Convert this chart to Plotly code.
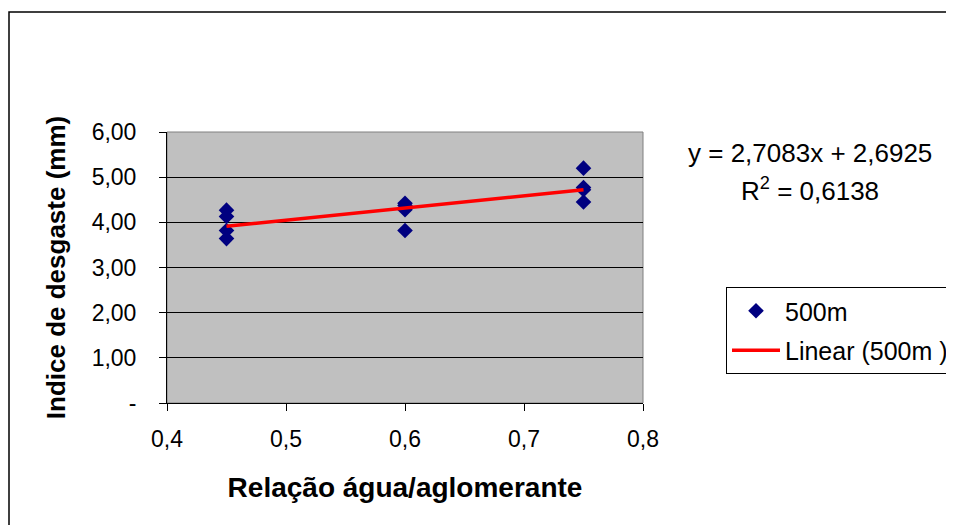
import plotly.graph_objects as go

# Data
x_vals = [0.45, 0.45, 0.45, 0.45, 0.60, 0.60, 0.60, 0.60, 0.75, 0.75, 0.75, 0.75]
y_vals = [4.27, 4.13, 3.82, 3.64, 4.42, 4.37, 4.28, 3.82, 5.20, 4.77, 4.72, 4.45]
series_name = "500m"
trend_name = "Linear (500m )"
slope = 2.7083
intercept = 2.6925
x_ticks = [0.4, 0.5, 0.6, 0.7, 0.8]
x_ticktext = ["0,4", "0,5", "0,6", "0,7", "0,8"]
y_ticks = [0, 1, 2, 3, 4, 5, 6]
y_ticktext = ["-", "1,00", "2,00", "3,00", "4,00", "5,00", "6,00"]
eq_text = "y = 2,7083x + 2,6925"
r2_text = "R<sup>2</sup> = 0,6138"

FONT = "Liberation Sans, Arial, sans-serif"

xmin, xmax = min(x_vals), max(x_vals)
trend_x = [xmin, xmax]
trend_y = [slope * v + intercept for v in trend_x]

fig = go.Figure()
fig.add_trace(go.Scatter(
    x=x_vals, y=y_vals, mode="markers", name=series_name,
    marker=dict(symbol="diamond", size=12, color="#000080"),
    legendgroup="a",
))
fig.add_trace(go.Scatter(
    x=trend_x, y=trend_y, mode="lines", name=trend_name,
    line=dict(color="#FF0000", width=3.5),
    legendgroup="b",
))

OFF = 8  # page body margin
W, H = 954 - OFF, 525 - OFF
L, R, T, B = 167 - OFF, 643 - OFF, 132 - OFF, 403 - OFF
pw, ph = R - L, B - T


def px(xs):
    return (xs - OFF - L) / pw


def py(ys):
    return (B - (ys - OFF)) / ph


fig.update_layout(
    width=W, height=H,
    margin=dict(l=L, r=W - R, t=T, b=H - B, pad=0, autoexpand=False),
    paper_bgcolor="white",
    plot_bgcolor="#C0C0C0",
    font=dict(family=FONT, size=23, color="black"),
    showlegend=True,
    legend=dict(
        xref="container", yref="container",
        x=(726 - OFF) / W, y=1 - (287 - OFF) / H, xanchor="left", yanchor="top",
        bordercolor="black", borderwidth=1, bgcolor="white",
        font=dict(size=25), traceorder="grouped", tracegroupgap=4,
        itemwidth=48,
    ),
    xaxis=dict(
        range=[0.4, 0.8], tickvals=x_ticks, ticktext=x_ticktext,
        showgrid=False, zeroline=False, showline=True, linecolor="black",
        linewidth=1, ticks="outside", ticklen=7, tickcolor="black",
        ticklabelstandoff=8,
        tickfont=dict(size=23),
        title=dict(text="<b>Relação água/aglomerante</b>", font=dict(size=28), standoff=26),
    ),
    yaxis=dict(
        range=[0, 6], tickvals=y_ticks, ticktext=y_ticktext,
        showgrid=True, gridcolor="black", gridwidth=1, zeroline=False,
        showline=True, linecolor="black", linewidth=1,
        ticks="outside", ticklen=7, tickcolor="black",
        ticklabelstandoff=18,
        tickfont=dict(size=23),
        title=dict(text="<b>Indice de desgaste (mm)</b>", font=dict(size=26), standoff=18),
    ),
    shapes=[
        dict(type="rect", xref="paper", yref="paper", x0=0, y0=0, x1=1, y1=1,
             line=dict(color="#808080", width=1), layer="below"),
        dict(type="rect", xref="paper", yref="paper",
             x0=px(9), y0=py(560), x1=px(990), y1=py(12),
             line=dict(color="black", width=1.5), layer="below"),
    ],
    annotations=[
        dict(xref="paper", yref="paper", x=px(810), y=py(153),
             text=eq_text, showarrow=False,
             font=dict(size=26), xanchor="center", yanchor="middle"),
        dict(xref="paper", yref="paper", x=px(810), y=py(189),
             text=r2_text, showarrow=False,
             font=dict(size=26), xanchor="center", yanchor="middle"),
    ],
)

fig.write_html("out.html")
